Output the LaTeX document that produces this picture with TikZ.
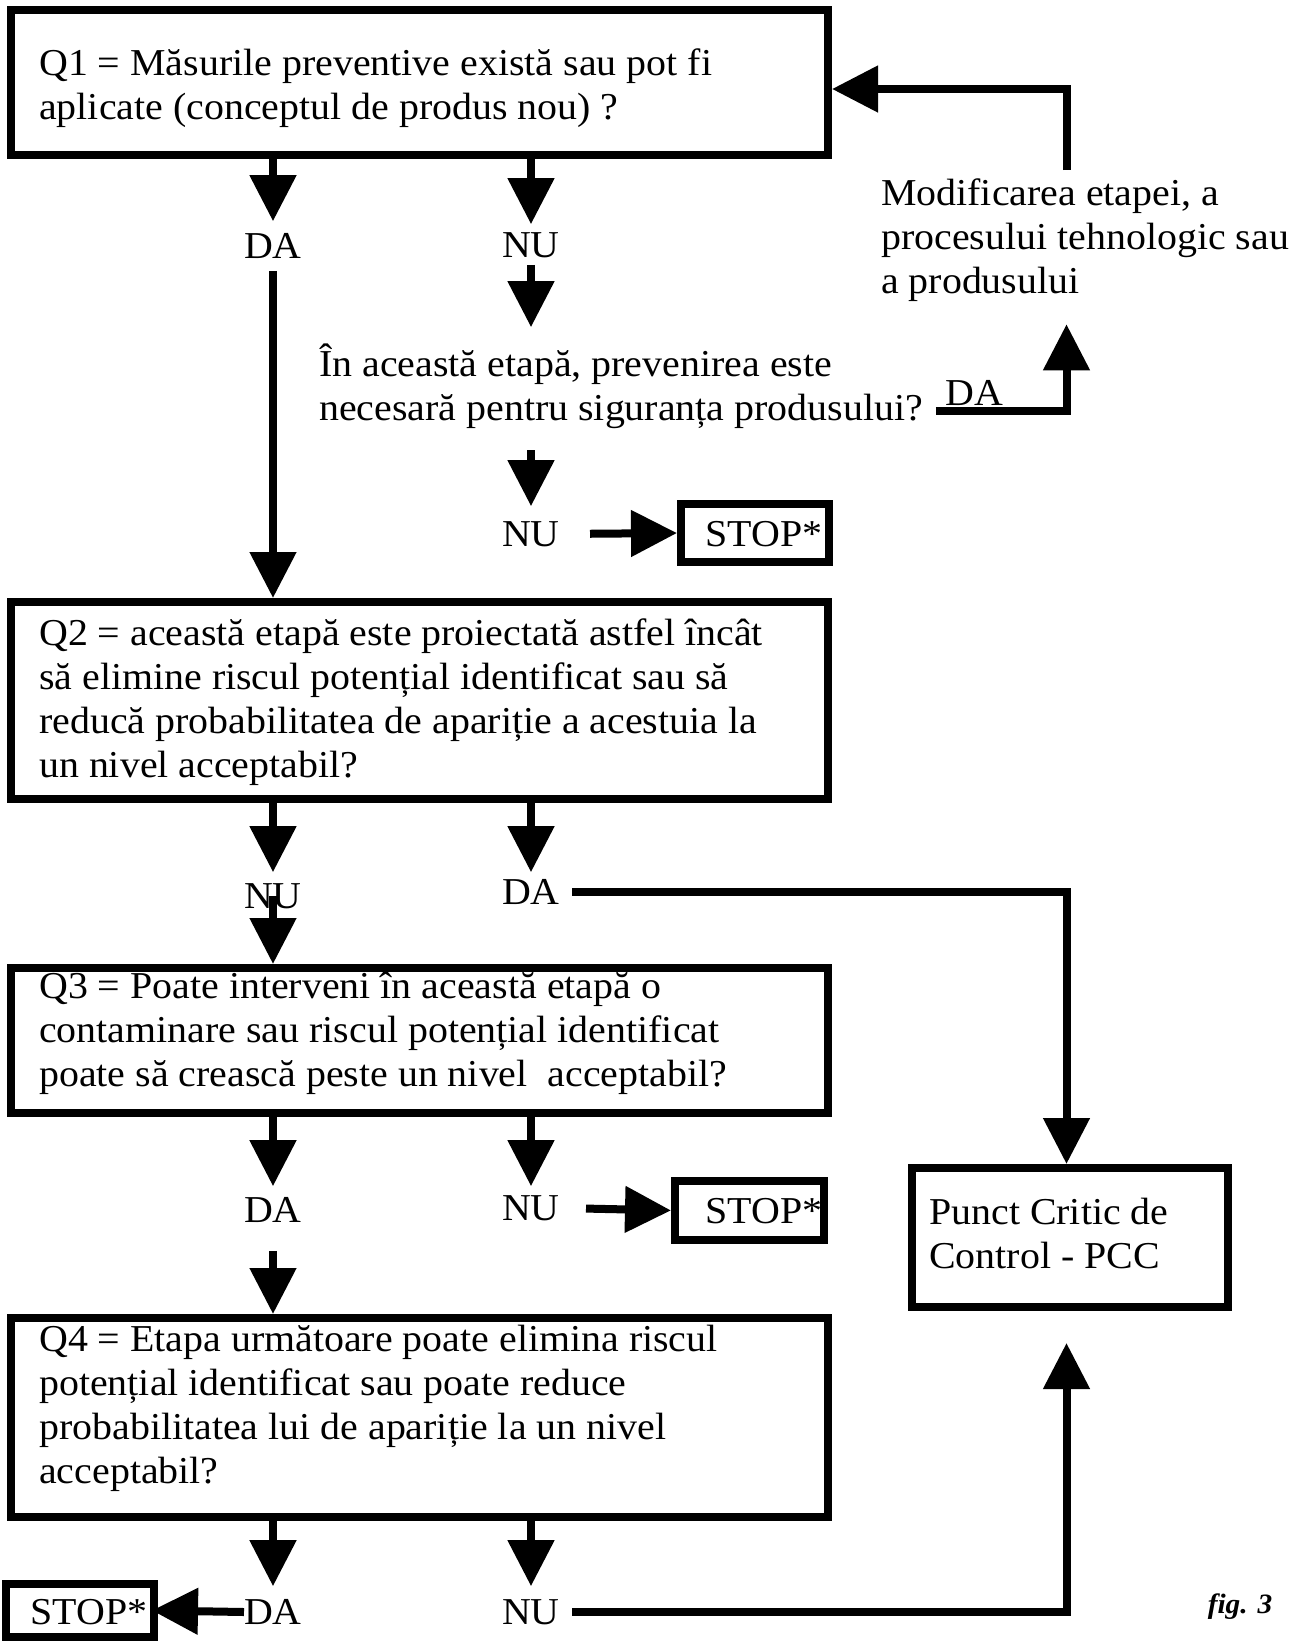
\documentclass[tikz,border=0pt]{standalone}
\usepackage{fontspec}
\setmainfont[FakeStretch=1.05]{Liberation Serif}
\usetikzlibrary{arrows.meta}
\newcommand\bigfs{\fontsize{38}{44}\selectfont}
\begin{document}
\begin{tikzpicture}[x=1pt,y=-1pt,
 box/.style={draw,line width=8pt,inner sep=0pt,outer sep=0pt,anchor=north west},
 txt/.style={align=left,anchor=base west,inner sep=0pt,font=\bigfs},
 lab/.style={inner sep=0pt,font=\bigfs},
 arr/.style={line width=8pt,-{Triangle[length=46pt,width=45pt]}},
 ]
\useasboundingbox (0,0) rectangle (1295,1642);
% boxes
\node[box,minimum width=817pt,minimum height=145pt] (q1) at (11,10) {};
\node[box,minimum width=817pt,minimum height=197pt] (q2) at (11,602) {};
\node[box,minimum width=817pt,minimum height=145pt] (q3) at (11,968) {};
\node[box,minimum width=817pt,minimum height=199pt] (q4) at (11,1318) {};
\node[box,minimum width=148pt,minimum height=58pt] (stop1) at (681,504) {};
\node[box,minimum width=149pt,minimum height=59pt] (stop2) at (675,1181) {};
\node[box,minimum width=148pt,minimum height=53pt] (stop3) at (6,1584) {};
\node[box,minimum width=316pt,minimum height=139pt] (pcc) at (912,1168) {};
% texts (base anchor = baseline of the last line)
\node[txt] (q1t) at (39,119) {Q1 = Măsurile preventive există sau pot fi\\aplicate (conceptul de produs nou) ?};
\node[txt] (midt) at (319,420) {În această etapă, prevenirea este\\necesară pentru siguranța produsului?};
\node[txt] (modif) at (881,293) {Modificarea etapei, a\\procesului tehnologic sau\\a produsului};
\node[txt] (q2t) at (39,777) {Q2 = această etapă este proiectată astfel încât\\să elimine riscul potențial identificat sau să\\reducă probabilitatea de apariție a acestuia la\\un nivel acceptabil?};
\node[txt] (q3t) at (39,1086) {Q3 = Poate interveni în această etapă o\\contaminare sau riscul potențial identificat\\poate să crească peste un nivel\ \ acceptabil?};
\node[txt] (q4t) at (39,1483) {Q4 = Etapa următoare poate elimina riscul\\potențial identificat sau poate reduce\\probabilitatea lui de apariție la un nivel\\acceptabil?};
\node[txt] (pcct) at (929,1268) {Punct Critic de\\Control - PCC};
\node[lab] (s1t) at (764,534) {STOP*};
\node[lab] (s2t) at (764,1211) {STOP*};
\node[lab] (s3t) at (89,1612) {STOP*};
\node[inner sep=0pt,font=\fontsize{28}{30}\selectfont\bfseries\itshape] (fig) at (1240,1607) {fig. 3};
% labels
\node[lab] (da1) at (273,246) {DA};
\node[lab] (nu1) at (531,245) {NU};
\node[lab] (nu2) at (531,534) {NU};
\node[lab] (da5) at (974,393) {DA};
\node[lab] (nu3) at (273,896) {NU};
\node[lab] (da2) at (531,892) {DA};
\node[lab] (da3) at (273,1210) {DA};
\node[lab] (nu4) at (531,1208) {NU};
\node[lab] (da4) at (273,1612) {DA};
\node[lab] (nu5) at (531,1612) {NU};
% connectors
\draw[arr,shorten >=12pt] (q1.south -| da1) -- (da1.north);
\draw[arr,shorten <=12pt,shorten >=4pt] (da1.south) -- (q2.north -| da1);
\draw[arr,shorten >=8pt] (q1.south -| nu1) -- (nu1.north);
\draw[arr,shorten <=7pt,shorten >=16pt] (nu1.south) -- (midt.north -| nu1);
\draw[arr,shorten <=22pt,shorten >=15pt] (midt.south -| nu2) -- (nu2.north);
\draw[arr,shorten <=30pt,shorten >=4pt] (nu2.east) -- (stop1.west);
\draw[arr] ([xshift=-9pt,yshift=-5.5pt]da5.south west) -| ([xshift=-3.5pt,yshift=-23pt]modif.south -| pcc);
\draw[arr,shorten <=8pt,shorten >=4pt] ([xshift=-3.5pt]modif.north -| pcc) |- ([yshift=-6.5pt]q1.east);
\draw[arr,shorten >=11pt] (q2.south -| nu3) -- (nu3.north);
\draw[arr,shorten >=7pt] (q2.south -| da2) -- (da2.north);
\draw[arr,shorten >=4pt] (nu3.center) -- (q3.north -| nu3);
\draw[arr,shorten <=12pt,shorten >=4pt] (da2.east) -| ([xshift=-3.5pt]pcc.north);
\draw[arr,shorten >=11pt] (q3.south -| da3) -- (da3.north);
\draw[arr,shorten >=9pt] (q3.south -| nu4) -- (nu4.north);
\draw[arr,shorten <=26pt,shorten >=4pt] (nu4.east) -- (stop2.west);
\draw[arr,shorten <=28pt,shorten >=4pt] (da3.south) -- (q4.north -| da3);
\draw[arr,shorten >=13pt] (q4.south -| da4) -- (da4.north);
\draw[arr,shorten >=13pt] (q4.south -| nu5) -- (nu5.north);
\draw[arr,shorten >=-2pt] (da4.west) -- (stop3.east);
\draw[arr,shorten <=12pt,shorten >=36pt] (nu5.east) -| ([xshift=-3.5pt]pcc.south);
\end{tikzpicture}
\end{document}
